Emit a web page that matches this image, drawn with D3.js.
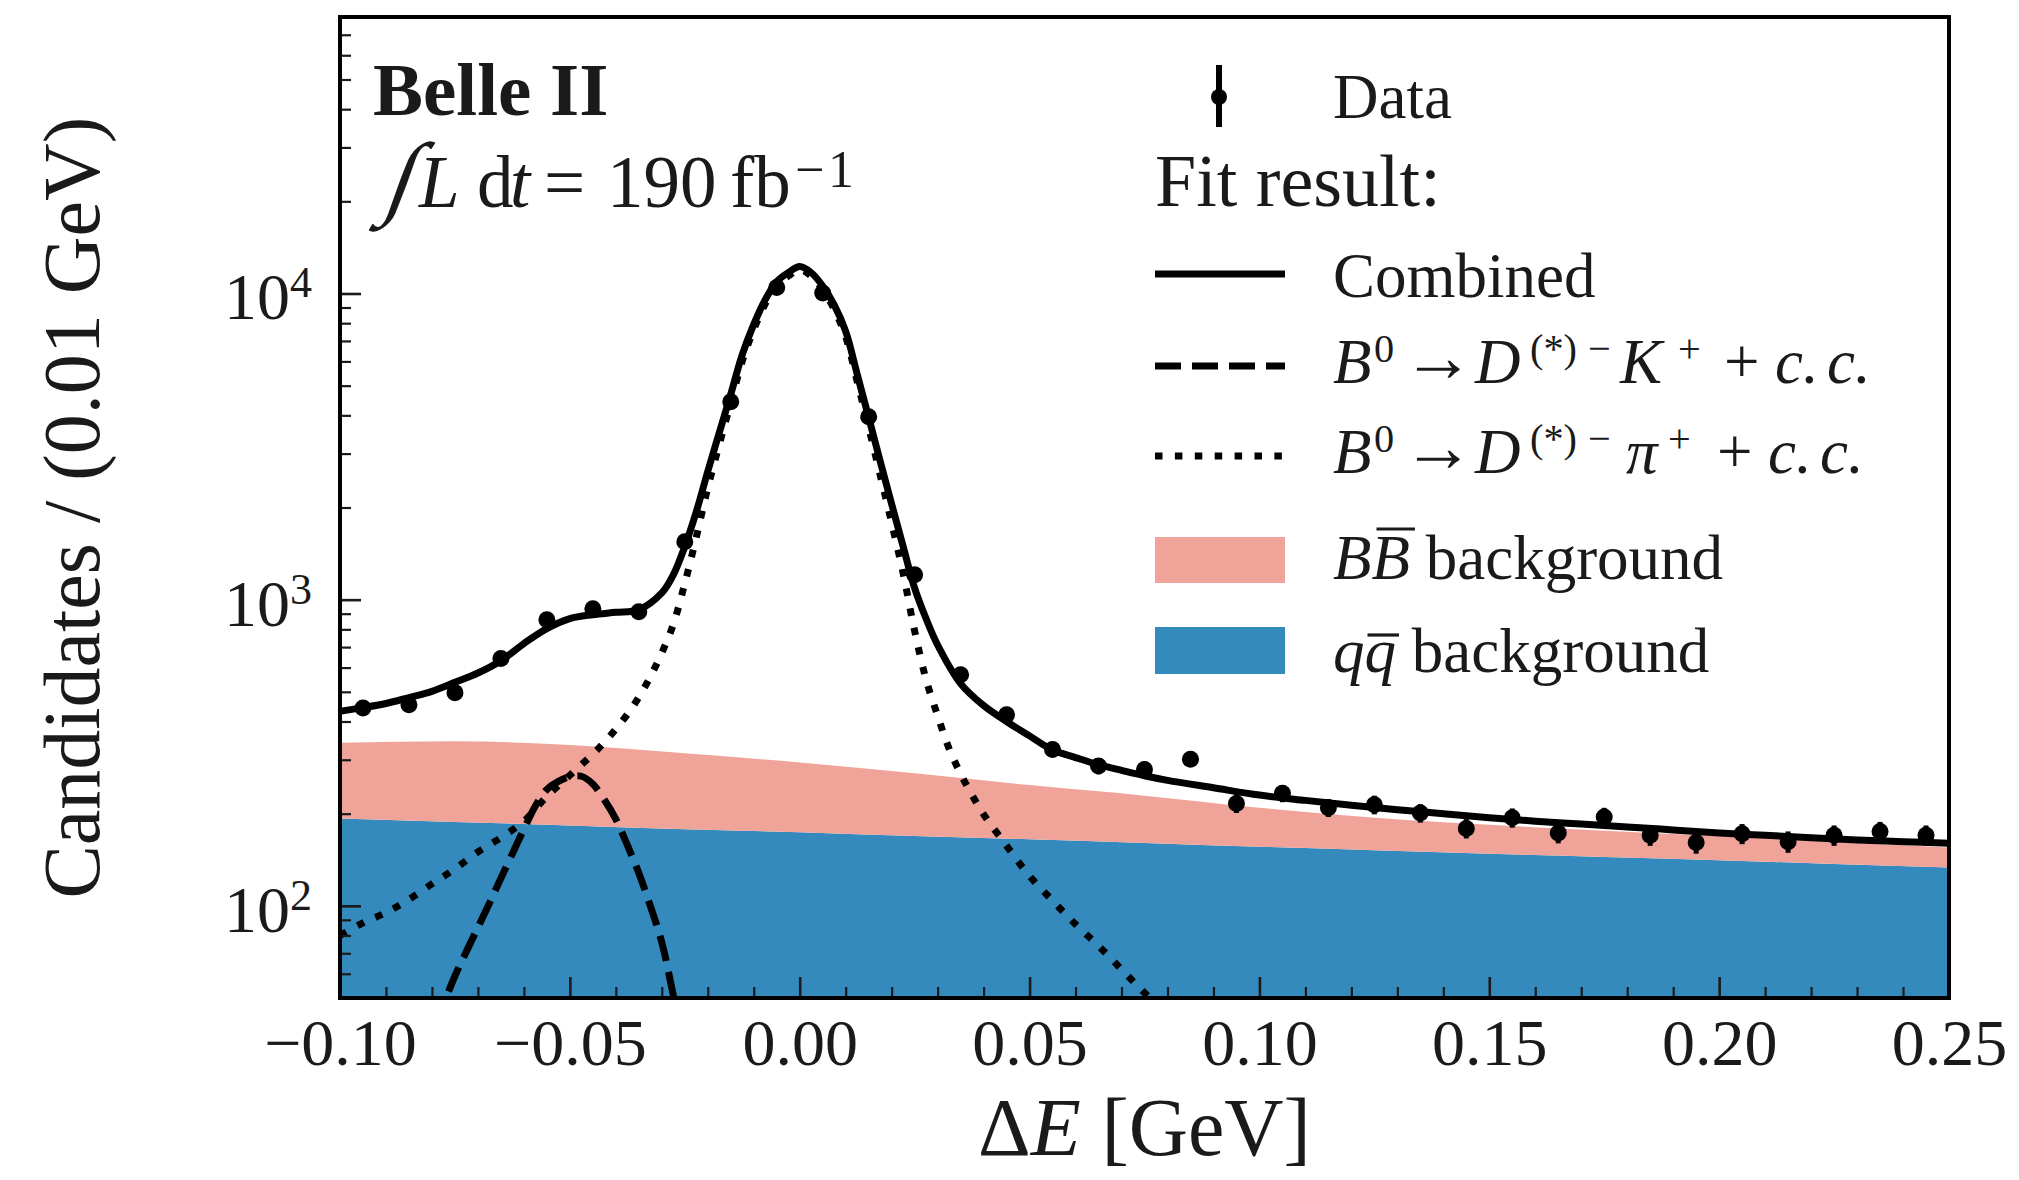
<!DOCTYPE html>
<html><head><meta charset="utf-8">
<script src="https://cdn.jsdelivr.net/npm/d3@7"></script>
<style>
body{margin:0;background:#fff}
svg{display:block}
text{font-family:"Liberation Serif","Times New Roman",serif;fill:#1a1a1a}
</style>
</head><body>
<svg id="c" width="2019" height="1180"></svg>
<script>
// ---------------- data ----------------
const xDomain = [-0.10, 0.25];
const yDomain = [50, 80000];
const xMajorTicks = [-0.10, -0.05, 0.00, 0.05, 0.10, 0.15, 0.20, 0.25];
const yMajorTicks = [100, 1000, 10000];
const yTickExponents = ["2", "3", "4"];

const binCenters = [-0.095,-0.085,-0.075,-0.065,-0.055,-0.045,-0.035,-0.025,-0.015,-0.005,
  0.005,0.015,0.025,0.035,0.045,0.055,0.065,0.075,0.085,0.095,0.105,0.115,0.125,0.135,
  0.145,0.155,0.165,0.175,0.185,0.195,0.205,0.215,0.225,0.235,0.245];
const dataCounts = [443,454,497,642,860,934,913,1545,4430,10460,10045,3958,1206,569,421,324,286,279,301,
  216,233,209,214,201,179,194,173,195,170,161,172,162,170,175,170];
const dataErrors = [21,21,22,25,29,31,30,39,67,102,100,63,35,24,21,18,17,17,17,
  15,15,14,15,14,13,14,13,14,13,13,13,13,13,13,13];

const combX = [-0.100,-0.095,-0.090,-0.085,-0.080,-0.075,-0.070,-0.065,-0.060,-0.055,-0.050,-0.045,-0.040,-0.035,-0.030,
  -0.0275,-0.025,-0.0225,-0.020,-0.0175,-0.015,-0.0125,-0.010,-0.0075,-0.005,-0.0025,0.000,0.0025,0.005,0.0075,0.010,
  0.0125,0.015,0.0175,0.020,0.0225,0.025,0.0275,0.030,
  0.035,0.040,0.045,0.050,0.055,0.060,0.065,0.070,0.075,0.080,
  0.090,0.100,0.110,0.120,0.130,0.140,0.150,0.160,0.170,0.180,0.190,0.200,0.210,0.220,0.230,0.240,0.250];
const combY = [432,444,458,479,502,537,576,632,719,804,867,893,909,927,1052,
  1205,1492,1936,2624,3510,4688,6310,7925,9545,10940,11700,12250,11700,10580,9175,7516,
  5449,3940,2834,2052,1492,1091,866,711,
  532,451,400,359,323,305,289,277,266,257,
  243,230,221,213,206,200,194,189,185,181,177,173,170,167,164,162,160];

const piX = [-0.100,-0.095,-0.090,-0.085,-0.080,-0.075,-0.070,-0.065,-0.060,-0.055,-0.050,-0.045,
  -0.0425,-0.040,-0.0375,-0.035,-0.0325,-0.030,-0.0275,-0.025,-0.0225,-0.020,-0.0175,-0.015,-0.0125,-0.010,
  -0.0075,-0.005,-0.0025,0.000,0.0025,0.005,0.0075,0.010,0.0125,0.015,0.0175,0.020,0.0225,0.025,
  0.0275,0.030,0.0325,0.035,0.0375,0.040,
  0.045,0.050,0.055,0.060,0.065,0.070,0.075,0.080,0.085];
const piY = [80,88,95,105,118,132,150,167,189,228,267,313,
  342,378,422,480,560,670,830,1130,1600,2320,3210,4390,6010,7625,
  9250,10640,11400,11950,11400,10290,8880,7225,5160,3655,2555,1780,1220,790,
  548,418,326,270,230,199,
  157,125,104,87,74,62,52,44,37];

const kX = [-0.080,-0.0775,-0.075,-0.0725,-0.070,-0.0675,-0.065,-0.0625,-0.060,-0.0575,-0.055,-0.0525,
  -0.050,-0.0475,-0.045,-0.0425,-0.040,-0.0375,-0.035,-0.0325,-0.030,-0.0275,-0.025];
const kY = [41,48,59,71,85,102,123,148,178,212,240,255,264,265,250,222,192,158,128,100,76,51,33];

const bkgX = [-0.100,-0.075,-0.050,-0.025,0.000,0.025,0.050,0.075,0.100,0.125,0.150,0.175,0.200,0.225,0.250];
const qqY  = [193,188,183,178,174,169,165,160.5,156,152,148,144.5,141,137,133.5];
const bbY  = [148,157,152,137,120,102,83,68.5,53,42,36,31.5,28,25,21.5];

// ---------------- setup ----------------
const plot = {l:340, r:1949, t:17, b:998};
const svg = d3.select('#c');
const x = d3.scaleLinear().domain(xDomain).range([plot.l, plot.r]);
const y = d3.scaleLog().domain(yDomain).range([plot.b, plot.t]);
const COL_QQ = '#358abd', COL_BB = '#f0a499';

svg.append('defs').append('clipPath').attr('id','clip')
  .append('rect').attr('x',plot.l).attr('y',plot.t).attr('width',plot.r-plot.l).attr('height',plot.b-plot.t);
const gp = svg.append('g').attr('clip-path','url(#clip)');

// stacked backgrounds
const bkgRows = bkgX.map((v,i)=>({x:v, qq:qqY[i], bb:bbY[i]}));
const stacked = d3.stack().keys(['qq','bb'])(bkgRows);
const area = d3.area()
  .x(d=>x(d.data.x))
  .y0(d=> d[0] > 0 ? y(d[0]) : plot.b + 10)
  .y1(d=>y(d[1]))
  .curve(d3.curveMonotoneX);
gp.append('path').attr('d', area(stacked[0])).attr('fill', COL_QQ);
gp.append('path').attr('d', area(stacked[1])).attr('fill', COL_BB);

const line = d3.line().x(d=>x(d[0])).y(d=>y(d[1])).curve(d3.curveCatmullRom.alpha(0.5));
const LW = 7;
gp.append('path').attr('d', line(piX.map((v,i)=>[v,piY[i]])))
  .attr('fill','none').attr('stroke','#000').attr('stroke-width',LW).attr('stroke-dasharray','7.5 12.4');
gp.append('path').attr('d', line(kX.map((v,i)=>[v,kY[i]])))
  .attr('fill','none').attr('stroke','#000').attr('stroke-width',LW).attr('stroke-dasharray','26 11');
gp.append('path').attr('d', line(combX.map((v,i)=>[v,combY[i]])))
  .attr('fill','none').attr('stroke','#000').attr('stroke-width',LW).attr('stroke-linejoin','round');

// data points
const gd = gp.append('g');
binCenters.forEach((c,i)=>{
  const v = dataCounts[i], e = dataErrors[i];
  gd.append('line').attr('x1',x(c)).attr('x2',x(c)).attr('y1',y(v-e)).attr('y2',y(v+e))
    .attr('stroke','#000').attr('stroke-width',5);
  gd.append('circle').attr('cx',x(c)).attr('cy',y(v)).attr('r',8.5).attr('fill','#000');
});

// ---------------- axes ----------------
const xMinor = d3.range(-10, 26).map(k=>k/100).filter(v=>!xMajorTicks.some(m=>Math.abs(m-v)<1e-9));
const gx = svg.append('g').attr('transform',`translate(0,${plot.b})`);
gx.append('g').call(d3.axisBottom(x).tickValues(xMinor).tickSize(-11).tickFormat(''))
  .call(g=>{g.select('.domain').remove(); g.selectAll('line').attr('stroke','#1a1a1a').attr('stroke-width',2.2);});
const gxM = gx.append('g').call(d3.axisBottom(x).tickValues(xMajorTicks).tickSize(-21).tickFormat(d3.format('.2f')));
gxM.select('.domain').remove();
gxM.selectAll('line').attr('stroke','#1a1a1a').attr('stroke-width',2.6);
gxM.selectAll('text').attr('y',67).attr('dy',null).style('font-size','66px')
  .style('font-family','"Liberation Serif","Times New Roman",serif').attr('fill','#1a1a1a');

const yMinor = [];
[10,100,1000,10000].forEach(dec=>{for(let m=2;m<=9;m++){const v=m*dec; if(v>=yDomain[0] && v<yDomain[1]) yMinor.push(v);}});
const gy = svg.append('g').attr('transform',`translate(${plot.l},0)`);
gy.append('g').call(d3.axisLeft(y).tickValues(yMinor).tickSize(-11).tickFormat(''))
  .call(g=>{g.select('.domain').remove(); g.selectAll('line').attr('stroke','#1a1a1a').attr('stroke-width',2.2);});
const gyM = gy.append('g').call(d3.axisLeft(y).tickValues(yMajorTicks).tickSize(-21).tickFormat(''));
gyM.select('.domain').remove();
gyM.selectAll('line').attr('stroke','#1a1a1a').attr('stroke-width',2.6);
yMajorTicks.forEach((v,i)=>{
  const t = svg.append('text').attr('x',312).attr('y',y(v)+26).attr('text-anchor','end').style('font-size','66px');
  t.append('tspan').text('10');
  t.append('tspan').attr('dy',-22).style('font-size','44px').text(yTickExponents[i]);
});

// spines
svg.append('rect').attr('x',plot.l).attr('y',plot.t).attr('width',plot.r-plot.l).attr('height',plot.b-plot.t)
  .attr('fill','none').attr('stroke','#000').attr('stroke-width',4);

// axis titles
svg.append('text').attr('transform',`translate(99,${(plot.t+plot.b)/2}) rotate(-90)`)
  .attr('text-anchor','middle').style('font-size','80px').text('Candidates / (0.01 GeV)');
const xl = svg.append('text').attr('x',(plot.l+plot.r)/2).attr('y',1155).attr('text-anchor','middle').style('font-size','82px');
xl.append('tspan').text('Δ');
xl.append('tspan').style('font-style','italic').text('E');
xl.append('tspan').text(' [GeV]');

// ---------------- rich text helper ----------------
function rich(x0, y0, size, segs){
  const t = svg.append('text').attr('x',x0).attr('y',y0).style('font-size',size+'px');
  let cur = 0;
  segs.forEach(s=>{
    const ts = t.append('tspan').text(s.t);
    const shift = s.sup ? -(s.rise || size*0.34) : (s.shift || 0);
    if (shift !== cur) ts.attr('dy', shift - cur);
    cur = shift;
    if (s.x !== undefined) ts.attr('x', s.x);
    if (s.it) ts.style('font-style','italic');
    if (s.bold) ts.style('font-weight','bold');
    if (s.sup) ts.style('font-size', (s.ss || size*0.64)+'px');
    if (s.size) ts.style('font-size', s.size+'px');
    if (s.dx) ts.attr('dx', s.dx);
  });
  return t;
}
function overline(t, idx, yy, shift){
  const n = t.node();
  const a = n.getStartPositionOfChar(idx), b = n.getEndPositionOfChar(idx);
  svg.append('line').attr('x1',a.x+shift).attr('x2',b.x+shift).attr('y1',yy).attr('y2',yy)
    .attr('stroke','#1a1a1a').attr('stroke-width',3.2);
}

// experiment label
rich(373, 115, 75, [{t:'Belle II', bold:true}]);
svg.append('text').attr('transform','translate(382,207) skewX(-20)').style('font-size','92px').text('∫');
rich(419, 207, 73, [
  {t:'L', it:true, x:419},
  {t:'d', x:477},
  {t:'t', it:true, x:510},
  {t:'=', x:544},
  {t:'190', x:607},
  {t:'fb', x:730},
  {t:'−', sup:true, ss:52, rise:20, x:795},
  {t:'1', sup:true, ss:52, rise:20, x:828}
]);

// ---------------- legend ----------------
const LX0 = 1155, LX1 = 1285, TX = 1333;
svg.append('line').attr('x1',1219).attr('x2',1219).attr('y1',65).attr('y2',127).attr('stroke','#000').attr('stroke-width',6);
svg.append('circle').attr('cx',1219).attr('cy',97).attr('r',8).attr('fill','#000');
rich(TX, 118, 63, [{t:'Data'}]);
rich(LX0, 206, 74, [{t:'Fit result:'}]);
svg.append('line').attr('x1',LX0).attr('x2',LX1).attr('y1',274).attr('y2',274).attr('stroke','#000').attr('stroke-width',LW);
rich(TX, 297, 63, [{t:'Combined'}]);

function decayLabel(yb, lightSym, symX, supPlusX, plusX, ccX){
  return rich(TX, yb, 63, [
    {t:'B', it:true, x:1333},
    {t:'0', sup:true, x:1374},
    {t:'→', size:72, x:1402, shift:-2},
    {t:'D', it:true, x:1475},
    {t:'(*)', sup:true, x:1530},
    {t:'−', sup:true, x:1588},
    {t:lightSym, it:true, x:symX},
    {t:'+', sup:true, x:supPlusX},
    {t:'+', x:plusX},
    {t:'c.', it:true, x:ccX},
    {t:'c.', it:true, x:ccX+52}
  ]);
}
svg.append('line').attr('x1',LX0).attr('x2',LX1).attr('y1',366).attr('y2',366).attr('stroke','#000').attr('stroke-width',LW).attr('stroke-dasharray','26 11');
decayLabel(383, 'K', 1620, 1678, 1724, 1775);
svg.append('line').attr('x1',LX0).attr('x2',LX1).attr('y1',456).attr('y2',456).attr('stroke','#000').attr('stroke-width',LW).attr('stroke-dasharray','7.5 12.4');
decayLabel(473, 'π', 1626, 1668, 1717, 1768);

svg.append('rect').attr('x',LX0).attr('y',537).attr('width',LX1-LX0).attr('height',46).attr('fill',COL_BB);
const tBB = rich(TX, 579, 63, [{t:'B', it:true},{t:'B', it:true},{t:' background'}]);
overline(tBB, 1, 529, 5);
svg.append('rect').attr('x',LX0).attr('y',627).attr('width',LX1-LX0).attr('height',47).attr('fill',COL_QQ);
const tQQ = rich(TX, 672, 63, [{t:'q', it:true},{t:'q', it:true},{t:' background'}]);
overline(tQQ, 1, 635, 3);
</script>
</body></html>
